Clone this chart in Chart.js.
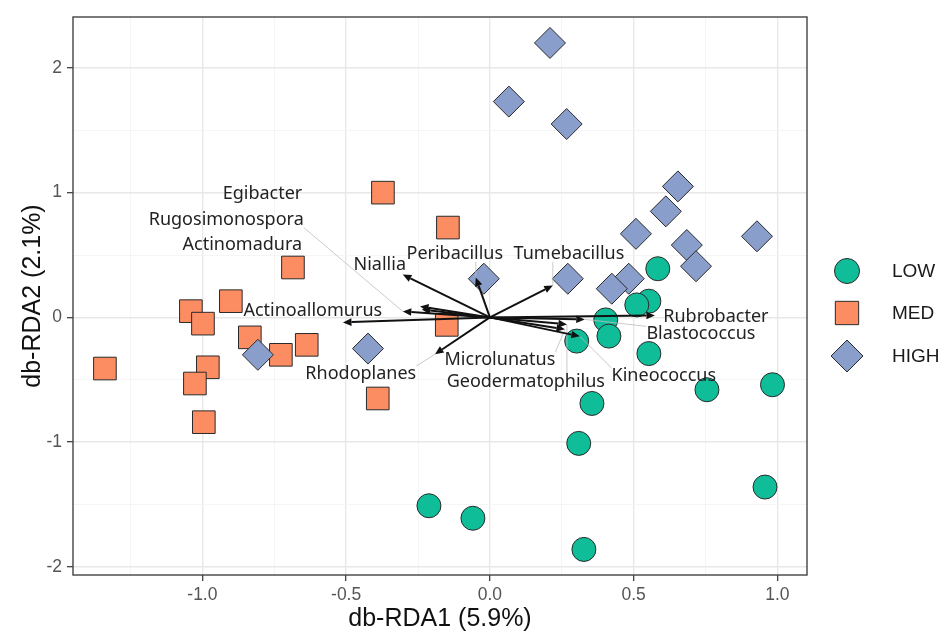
<!DOCTYPE html>
<html>
<head>
<meta charset="utf-8">
<script src="https://cdn.jsdelivr.net/npm/chart.js@4.4.1/dist/chart.umd.min.js"></script>
<style>
  html, body { margin: 0; background: #fff; }
</style>
</head>
<body>
<canvas id="rda" width="945" height="633"></canvas>
<script>
// sample scores (db-RDA1, db-RDA2)
const lowX = [0.584, 0.553, 0.511, 0.403, 0.414, 0.302, 0.553, 0.755, 0.983, 0.355, 0.309, 0.957, -0.212, -0.059, 0.327];
const lowY = [0.39, 0.13, 0.10, -0.02, -0.15, -0.19, -0.29, -0.58, -0.54, -0.69, -1.01, -1.36, -1.51, -1.61, -1.86];
const medX = [-0.372, -0.146, -0.685, -0.901, -1.040, -0.998, -0.835, -0.727, -0.637, -1.339, -0.981, -1.026, -0.995, -0.390, -0.150];
const medY = [1.00, 0.72, 0.40, 0.13, 0.05, -0.05, -0.16, -0.30, -0.22, -0.41, -0.40, -0.53, -0.84, -0.65, -0.06];
const highX = [0.209, 0.066, 0.267, 0.654, 0.612, 0.508, 0.929, 0.685, 0.717, 0.483, 0.424, 0.271, -0.021, -0.807, -0.424];
const highY = [2.20, 1.73, 1.55, 1.05, 0.85, 0.67, 0.65, 0.58, 0.41, 0.31, 0.23, 0.31, 0.31, -0.30, -0.25];

// genus vectors and their labels
const taxa = ['Egibacter', 'Rugosimonospora', 'Actinomadura', 'Niallia', 'Peribacillus', 'Tumebacillus',
  'Actinoallomurus', 'Rhodoplanes', 'Microlunatus', 'Geodermatophilus', 'Kineococcus', 'Rubrobacter', 'Blastococcus'];
const arrowX = [-0.243, -0.303, -0.237, -0.303, -0.049, 0.219, -0.511, -0.191, 0.261, 0.268, 0.313, 0.574, 0.330];
const arrowY = [0.088, 0.048, 0.064, 0.343, 0.319, 0.255, -0.040, -0.295, -0.096, -0.056, -0.152, 0.016, -0.016];
const labelX = [-0.791, -0.917, -0.861, -0.383, -0.122, 0.275, -0.616, -0.449, 0.035, 0.125, 0.605, 0.786, 0.734];
const labelY = [0.991, 0.784, 0.585, 0.42, 0.51, 0.51, 0.056, -0.455, -0.343, -0.518, -0.47, 0.008, -0.136];
const hasLeader = [0, 1, 0, 0, 1, 1, 0, 1, 1, 1, 1, 0, 1];

const groups = ['LOW', 'MED', 'HIGH'];
const colours = ['#10BD99', '#FC8D62', '#8A9ECC'];

const toPts = (xs, ys) => xs.map((v, i) => ({ x: v, y: ys[i] }));
const isMult = (v, s) => Math.abs(v / s - Math.round(v / s)) < 1e-6;

const labelFont = '18px "Noto Sans"';

const overlay = {
  id: 'overlay',
  afterDatasetsDraw(chart) {
    const { ctx, scales: { x, y } } = chart;
    const ox = x.getPixelForValue(0), oy = y.getPixelForValue(0);
    ctx.save();
    ctx.font = labelFont;
    ctx.textAlign = 'center';
    ctx.textBaseline = 'middle';

    // leader segments first (grey, thin)
    ctx.strokeStyle = '#bdbdbd';
    ctx.lineWidth = 0.8;
    taxa.forEach((t, i) => {
      if (!hasLeader[i]) return;
      const lx = x.getPixelForValue(labelX[i]), ly = y.getPixelForValue(labelY[i]);
      const tx = x.getPixelForValue(arrowX[i]), ty = y.getPixelForValue(arrowY[i]);
      const w = ctx.measureText(t).width / 2, h = 8;
      const cx = Math.max(lx - w, Math.min(lx + w, tx));
      const cy = Math.max(ly - h, Math.min(ly + h, ty));
      ctx.beginPath();
      ctx.moveTo(cx, cy);
      ctx.lineTo(tx, ty);
      ctx.stroke();
    });

    // arrows
    ctx.strokeStyle = '#111';
    ctx.fillStyle = '#111';
    ctx.lineWidth = 2;
    taxa.forEach((t, i) => {
      const tx = x.getPixelForValue(arrowX[i]), ty = y.getPixelForValue(arrowY[i]);
      const ang = Math.atan2(ty - oy, tx - ox);
      const len = 8.5, half = 3.8;
      const bx = tx - len * Math.cos(ang), by = ty - len * Math.sin(ang);
      ctx.beginPath();
      ctx.moveTo(ox, oy);
      ctx.lineTo(bx, by);
      ctx.stroke();
      ctx.beginPath();
      ctx.moveTo(tx, ty);
      ctx.lineTo(bx + half * Math.sin(ang), by - half * Math.cos(ang));
      ctx.lineTo(bx - half * Math.sin(ang), by + half * Math.cos(ang));
      ctx.closePath();
      ctx.fill();
    });

    // labels
    ctx.fillStyle = '#222';
    taxa.forEach((t, i) => {
      ctx.fillText(t, x.getPixelForValue(labelX[i]), y.getPixelForValue(labelY[i]));
    });
    ctx.restore();
  },
  afterDraw(chart) {
    const { ctx, chartArea: a } = chart;
    ctx.save();
    // panel border
    ctx.strokeStyle = '#444';
    ctx.lineWidth = 1.4;
    ctx.strokeRect(a.left, a.top, a.right - a.left, a.bottom - a.top);

    // legend
    const ys = [271, 313, 356];
    chart.data.datasets.forEach((ds, i) => {
      ctx.fillStyle = ds.backgroundColor;
      ctx.strokeStyle = '#2a2a2a';
      ctx.lineWidth = 1;
      Chart.helpers.drawPoint(ctx, { pointStyle: ds.pointStyle, radius: ds.pointRadius + 0.5, borderWidth: 1, rotation: 0 }, 847, ys[i]);
      ctx.fillStyle = '#1a1a1a';
      ctx.font = '19px "Liberation Sans", Arial';
      ctx.textAlign = 'left';
      ctx.textBaseline = 'middle';
      ctx.fillText(ds.label, 892, ys[i] + 1);
    });
    ctx.restore();
  }
};

const gridColour = major => c => major(c.tick.value) ? '#E8E8E8' : '#F2F2F2';
const gridWidth = major => c => major(c.tick.value) ? 1.4 : 0.8;
const tickColour = major => c => major(c.tick.value) ? '#333' : 'rgba(0,0,0,0)';

const xMajor = v => isMult(v, 0.5);
const yMajor = v => isMult(v, 1);

new Chart(document.getElementById('rda'), {
  type: 'scatter',
  data: {
    datasets: [
      { label: groups[0], data: toPts(lowX, lowY), backgroundColor: colours[0], pointStyle: 'circle', pointRadius: 12, order: 0 },
      { label: groups[1], data: toPts(medX, medY), backgroundColor: colours[1], pointStyle: 'rect', pointRadius: 16, order: 2 },
      { label: groups[2], data: toPts(highX, highY), backgroundColor: colours[2], pointStyle: 'rectRot', pointRadius: 15.5, order: 1 }
    ].map(d => Object.assign(d, { borderColor: '#2a2a2a', borderWidth: 1, pointHoverRadius: d.pointRadius }))
  },
  options: {
    responsive: false,
    animation: false,
    devicePixelRatio: 1,
    layout: { padding: { left: 0, right: 138, top: 14, bottom: 0 } },
    plugins: { legend: { display: false }, tooltip: { enabled: false } },
    scales: {
      x: {
        type: 'linear',
        min: -1.45,
        max: 1.103,
        afterFit: s => { s.height = 58; },
        border: { display: false },
        grid: { color: gridColour(xMajor), lineWidth: gridWidth(xMajor), tickColor: tickColour(xMajor), tickLength: 6, tickWidth: 1.2 },
        ticks: {
          stepSize: 0.25,
          includeBounds: false,
          autoSkip: false,
          maxRotation: 0,
          padding: 4,
          color: '#555',
          font: { family: '"Liberation Sans", Arial', size: 17.5 },
          callback: v => xMajor(v) ? v.toFixed(1) : ''
        },
        title: {
          display: true,
          text: 'db-RDA1 (5.9%)',
          color: '#111',
          font: { family: '"Liberation Sans", Arial', size: 25, lineHeight: 1 },
          padding: { top: 0, bottom: 1 }
        }
      },
      y: {
        type: 'linear',
        min: -2.065,
        max: 2.408,
        afterFit: s => { s.width = 73; },
        afterBuildTicks: s => { s.ticks = s.ticks.filter(t => t.value <= 2.0001); },
        border: { display: false },
        grid: { color: gridColour(yMajor), lineWidth: gridWidth(yMajor), tickColor: tickColour(yMajor), tickLength: 6, tickWidth: 1.2 },
        ticks: {
          stepSize: 0.5,
          includeBounds: false,
          autoSkip: false,
          padding: 5,
          color: '#555',
          font: { family: '"Liberation Sans", Arial', size: 17.5 },
          callback: v => yMajor(v) ? String(Math.round(v)) : ''
        },
        title: {
          display: true,
          text: 'db-RDA2 (2.1%)',
          color: '#111',
          font: { family: '"Liberation Sans", Arial', size: 25, lineHeight: 1 },
          padding: { top: 21, bottom: 0 }
        }
      }
    }
  },
  plugins: [overlay]
});
</script>
</body>
</html>
